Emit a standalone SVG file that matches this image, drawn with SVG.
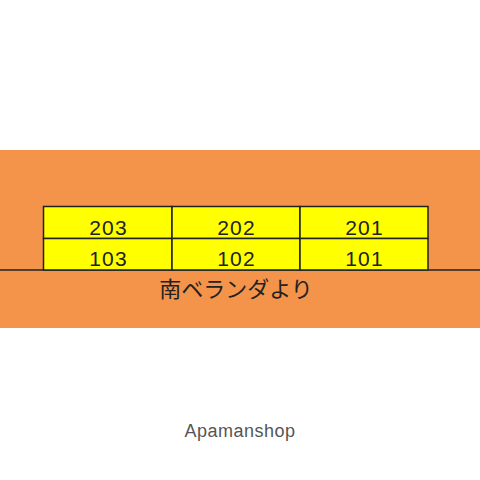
<svg xmlns="http://www.w3.org/2000/svg" width="480" height="480" viewBox="0 0 480 480">
<style>
.cell{fill:#ffff00;stroke:#222;stroke-width:1.5}
.num{font-family:"Liberation Sans",Arial,sans-serif;font-size:21px;fill:#222;text-anchor:middle;letter-spacing:1.2px}
</style>
<rect x="0" y="0" width="480" height="480" fill="#ffffff"/>
<rect x="0" y="150" width="480" height="178" fill="#f4934a"/>
<g id="connectors">
<line x1="0" y1="270" x2="480" y2="270" stroke="#222" stroke-width="1.5"/>
</g>
<g id="r203"><rect class="cell" x="43.5" y="206.5" width="128.5" height="32"/><text class="num" x="108.5" y="234.5">203</text></g>
<g id="r202"><rect class="cell" x="172" y="206.5" width="128" height="32"/><text class="num" x="236.5" y="234.5">202</text></g>
<g id="r201"><rect class="cell" x="300" y="206.5" width="128" height="32"/><text class="num" x="364.5" y="234.5">201</text></g>
<g id="r103"><rect class="cell" x="43.5" y="238.5" width="128.5" height="31.5"/><text class="num" x="108.5" y="266">103</text></g>
<g id="r102"><rect class="cell" x="172" y="238.5" width="128" height="31.5"/><text class="num" x="236.5" y="266">102</text></g>
<g id="r101"><rect class="cell" x="300" y="238.5" width="128" height="31.5"/><text class="num" x="364.5" y="266">101</text></g>
<text x="236" y="297" font-family="'Noto Sans CJK JP',sans-serif" font-size="22" fill="#222" text-anchor="middle">南ベランダより</text>
<text x="240" y="437" font-family="'Liberation Sans',Arial,sans-serif" font-size="18" fill="#555" text-anchor="middle" letter-spacing="0.5">Apamanshop</text>
</svg>
